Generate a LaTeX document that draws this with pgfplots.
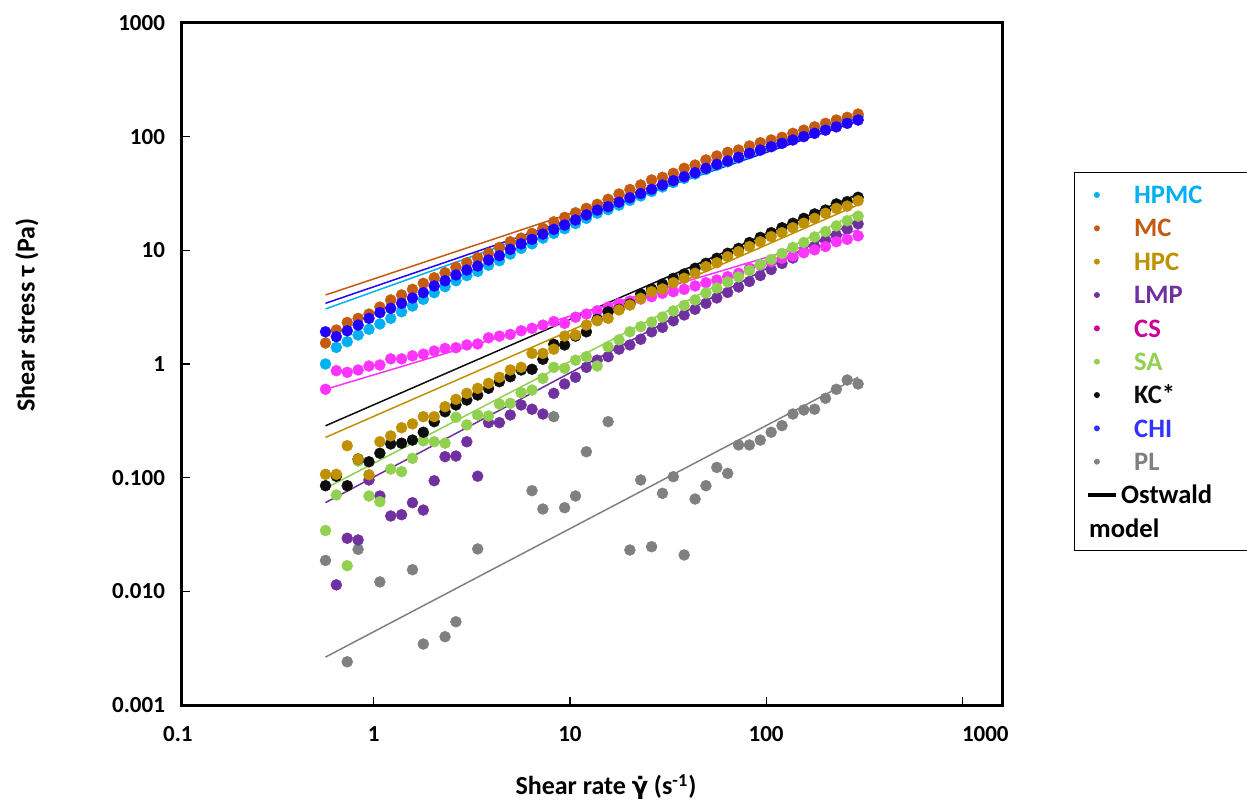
\documentclass[border=0pt]{standalone}
\usepackage{pgfplots}
\pgfplotsset{compat=1.18}
\usepackage{pgfplotstable}
\usepackage{fontspec}
\setmainfont{Carlito}
\newfontfamily\dejavu{DejaVu Sans}
\definecolor{hpmc}{HTML}{00B0F0}
\definecolor{mc}{HTML}{C55A11}
\definecolor{hpc}{HTML}{BF9000}
\definecolor{lmp}{HTML}{7030A0}
\definecolor{cs}{HTML}{FF33FF}
\definecolor{cstext}{HTML}{CC0099}
\definecolor{sa}{HTML}{92D050}
\definecolor{kc}{HTML}{0D0D0D}
\definecolor{chi}{HTML}{2200FF}
\definecolor{chitext}{HTML}{3333FF}
\definecolor{pl}{HTML}{808080}
\pgfplotstableread{
x hpmc mc hpc lmp cs sa kc chi pl
0.568 1.00 1.53 0.107 nan 0.599 0.0343 0.0850 1.92 0.0187
0.645 1.40 1.99 0.107 0.0114 0.873 0.0704 0.103 1.74 nan
0.733 1.57 2.32 0.191 0.0293 0.845 0.0168 0.0850 1.96 0.00240
0.833 1.80 2.52 0.146 0.0283 0.886 0.140 0.146 2.20 0.0234
0.946 2.02 2.75 0.106 0.0954 0.960 0.0690 0.138 2.52 nan
1.075 2.25 3.17 0.207 0.0690 0.980 0.0614 0.164 2.83 0.0121
1.221 2.52 3.66 0.233 0.0460 1.11 0.119 0.198 3.09 nan
1.387 2.88 4.05 0.275 0.0472 1.11 0.113 0.201 3.42 nan
1.576 3.24 4.54 0.297 0.0602 1.18 0.148 0.214 3.81 0.0155
1.790 3.71 5.13 0.344 0.0519 1.22 0.211 0.251 4.24 0.00344
2.034 4.24 5.74 0.344 0.0940 1.30 0.207 0.311 4.86 nan
2.310 4.79 6.35 0.421 0.153 1.37 0.201 0.380 5.40 0.00399
2.625 5.40 7.10 0.489 0.155 1.39 0.340 0.436 6.07 0.00540
2.982 5.99 7.78 0.552 0.207 1.47 0.291 0.482 6.71 nan
3.388 6.53 8.61 0.611 0.103 1.50 0.356 0.534 7.28 0.0236
3.848 7.40 9.42 0.676 0.305 1.70 0.349 0.611 8.22 nan
4.372 8.11 10.6 0.764 0.305 1.76 0.445 0.699 8.97 nan
4.967 9.27 11.9 0.886 0.356 1.82 0.451 0.773 10.2 nan
5.643 10.4 12.8 0.935 0.436 1.96 0.559 0.886 11.4 nan
6.411 11.4 14.1 1.24 0.400 2.06 0.590 0.898 12.5 0.0768
7.283 12.8 15.6 1.24 0.363 2.20 0.748 1.10 13.9 0.0530
8.274 14.1 17.8 1.35 0.552 2.36 0.935 1.49 15.3 0.344
9.399 15.5 19.5 1.76 0.667 2.28 0.917 1.47 16.7 0.0544
10.68 17.2 21.4 1.80 0.764 2.58 1.08 1.76 18.5 0.0690
12.13 19.1 23.4 2.20 0.935 2.75 1.16 1.92 20.5 0.169
13.78 21.2 25.4 2.40 1.08 2.94 0.960 2.47 22.6 nan
15.66 22.8 28.1 2.52 1.16 3.17 1.42 2.88 24.2 0.311
17.79 25.0 31.3 2.99 1.35 3.41 1.63 3.03 26.5 nan
20.21 27.5 34.3 3.30 1.47 3.58 1.92 3.37 29.0 0.0231
22.96 30.1 37.6 3.78 1.65 3.73 2.13 4.13 31.6 0.0954
26.08 32.9 41.6 4.33 1.92 3.91 2.34 4.57 34.4 0.0247
29.63 36.1 43.9 4.57 2.10 4.19 2.59 5.05 37.6 0.0728
33.66 39.5 47.6 5.19 2.40 4.33 2.93 5.67 41.0 0.102
38.24 43.0 52.7 5.67 2.70 4.54 3.27 6.19 44.4 0.0209
43.45 46.9 56.3 6.28 3.03 4.86 3.66 6.95 48.2 0.0649
49.36 51.4 62.4 7.18 3.42 5.19 4.21 7.69 52.7 0.0850
56.07 56.0 67.6 7.78 3.81 5.48 4.66 8.51 57.1 0.123
63.70 60.1 72.8 8.79 4.26 5.86 5.27 9.42 61.1 0.109
72.37 65.0 76.3 9.73 4.76 6.28 5.83 10.4 65.8 0.194
82.21 70.8 82.8 10.8 5.32 6.95 6.65 11.7 71.4 0.194
93.40 76.0 88.5 11.9 6.00 7.43 7.50 13.0 76.3 0.214
106.1 81.9 93.5 13.2 6.78 7.94 8.30 14.3 81.6 0.251
120.5 88.3 98.7 14.3 7.66 8.51 9.38 15.8 87.4 0.287
136.9 95.0 107 15.8 8.56 8.91 10.6 17.3 93.5 0.363
155.6 102 114 17.3 9.67 9.53 11.7 19.1 100 0.394
176.7 110 122 19.1 10.8 10.1 13.1 20.9 107 0.400
200.8 118 131 21.2 12.2 10.8 14.6 22.6 114 0.499
228.1 128 140 23.4 13.6 11.9 16.4 25.6 122 0.599
259.1 139 148 24.5 15.4 12.5 18.2 26.8 131 0.723
294.4 150 158 27.3 17.1 13.4 20.0 29.3 140 0.667
}\data
\pgfplotsset{
  dotleg/.style={legend image code/.code={\fill[#1, draw=none] (4.5pt,0pt) circle (1.5pt); \path[draw=none, fill=none] (0pt,0pt) -- (14pt,0pt);}},
  pts/.style={only marks, color=#1, mark=*, mark size=2.75pt, mark options={solid, draw=#1, fill=#1, line width=0.2pt}, forget plot},
  fit/.style={color=#1, line width=0.75pt, no marks, forget plot},
}
\begin{document}
\begin{tikzpicture}[x=1pt,y=1pt]
\begin{axis}[
  at={(0pt,0pt)}, anchor=south west,
  scale only axis, width=410.5pt, height=341pt,
  xmode=log, ymode=log,
  xmin=0.10541, xmax=1612, ymin=0.001, ymax=1000,
  axis line style={line width=1.5pt},
  xtick={1,10,100,1000}, xticklabels={1,10,100,\hspace*{23pt}1000},
  ytick={0.001,0.01,0.1,1,10,100,1000},
  yticklabels={0.001,0.010,0.100,1,10,100,1000},
  minor tick style={draw=none},
  major tick style={black, line width=0.6pt},
  tick align=inside, major tick length=4pt,
  xtick pos=bottom, ytick pos=left,
  tick label style={font=\fontsize{11.5}{13}\selectfont\bfseries},
  xticklabel style={yshift=-7pt},
  yticklabel style={xshift=-5pt},
  label style={font=\fontsize{13}{15}\selectfont\bfseries},
  xlabel={Shear rate {\dejavu\bfseries\fontsize{12}{14}\selectfont γ̇} (s\textsuperscript{-1})},
  ylabel={Shear stress τ (Pa)},
  xlabel style={at={(axis description cs:0.5164,-0.1202)}, anchor=center},
  ylabel style={at={(axis description cs:-0.1888,0.5718)}, anchor=center},
  legend style={at={(axis description cs:1.0865,0.7815)}, anchor=north west,
    draw=black, line width=0.6pt, font=\fontsize{13.3}{16}\selectfont\bfseries,
    inner xsep=5.5pt, inner ysep=2.85pt, row sep=0pt, column sep=1.5pt,
    nodes={inner xsep=0pt, inner ysep=0pt, text height=12.67pt, text depth=4pt}},
  legend cell align=left,
  clip=false,
]
\addplot[pts=pl] table[x=x,y=pl]{\data};
\addplot[pts=lmp] table[x=x,y=lmp]{\data};
\addplot[pts=cs] table[x=x,y=cs]{\data};
\addplot[pts=sa] table[x=x,y=sa]{\data};
\addplot[pts=kc] table[x=x,y=kc]{\data};
\addplot[pts=hpc] table[x=x,y=hpc]{\data};
\addplot[pts=hpmc] table[x=x,y=hpmc]{\data};
\addplot[pts=mc] table[x=x,y=mc]{\data};
\addplot[pts=chi] table[x=x,y=chi]{\data};
% Ostwald (power-law) fits
\addplot[fit=mc] coordinates {(0.568,4.05) (294.4,145.9)};
\addplot[fit=chi] coordinates {(0.568,3.42) (294.4,137.4)};
\addplot[fit=hpmc] coordinates {(0.568,3.05) (294.4,146)};
\addplot[fit=kc] coordinates {(0.568,0.286) (294.4,31.3)};
\addplot[fit=hpc] coordinates {(0.568,0.226) (294.4,25.1)};
\addplot[fit=cs] coordinates {(0.568,0.599) (294.4,15.1)};
\addplot[fit=sa] coordinates {(0.568,0.0806) (294.4,21.7)};
\addplot[fit=lmp] coordinates {(0.568,0.0603) (294.4,18.5)};
\addplot[fit=pl] coordinates {(0.568,0.00264) (294.4,0.764)};
% legend
\addlegendimage{dotleg=hpmc}\addlegendentry{\hspace*{6.5pt}\textcolor{hpmc}{HPMC}}
\addlegendimage{dotleg=mc}\addlegendentry{\hspace*{6.5pt}\textcolor{mc}{MC}}
\addlegendimage{dotleg=hpc}\addlegendentry{\hspace*{6.5pt}\textcolor{hpc}{HPC}}
\addlegendimage{dotleg=lmp}\addlegendentry{\hspace*{6.5pt}\textcolor{lmp}{LMP}}
\addlegendimage{dotleg=cstext}\addlegendentry{\hspace*{6.5pt}\textcolor{cstext}{CS}}
\addlegendimage{dotleg=sa}\addlegendentry{\hspace*{6.5pt}\textcolor{sa}{SA}}
\addlegendimage{dotleg=kc}\addlegendentry{\hspace*{6.5pt}\textcolor{kc}{KC*}}
\addlegendimage{dotleg=chitext}\addlegendentry{\hspace*{6.5pt}\textcolor{chitext}{CHI}}
\addlegendimage{dotleg=pl}\addlegendentry{\hspace*{6.5pt}\textcolor{pl}{PL}}
\addlegendimage{legend image code/.code={\draw[line width=2.3pt, black] (0pt,0pt) -- (14pt,0pt);}}
\addlegendentry{Ostwald\hspace*{40pt}}
\addlegendimage{empty legend}\addlegendentry{\hspace*{-16pt}model}
\node[anchor=north, font=\fontsize{11.5}{13}\selectfont\bfseries, yshift=-7pt] at (rel axis cs:-0.005,0) {0.1};
\end{axis}
\pgfresetboundingbox
\path[use as bounding box] (-91pt,-48.5pt) rectangle (532.5pt,352.5pt);
\end{tikzpicture}
\end{document}
